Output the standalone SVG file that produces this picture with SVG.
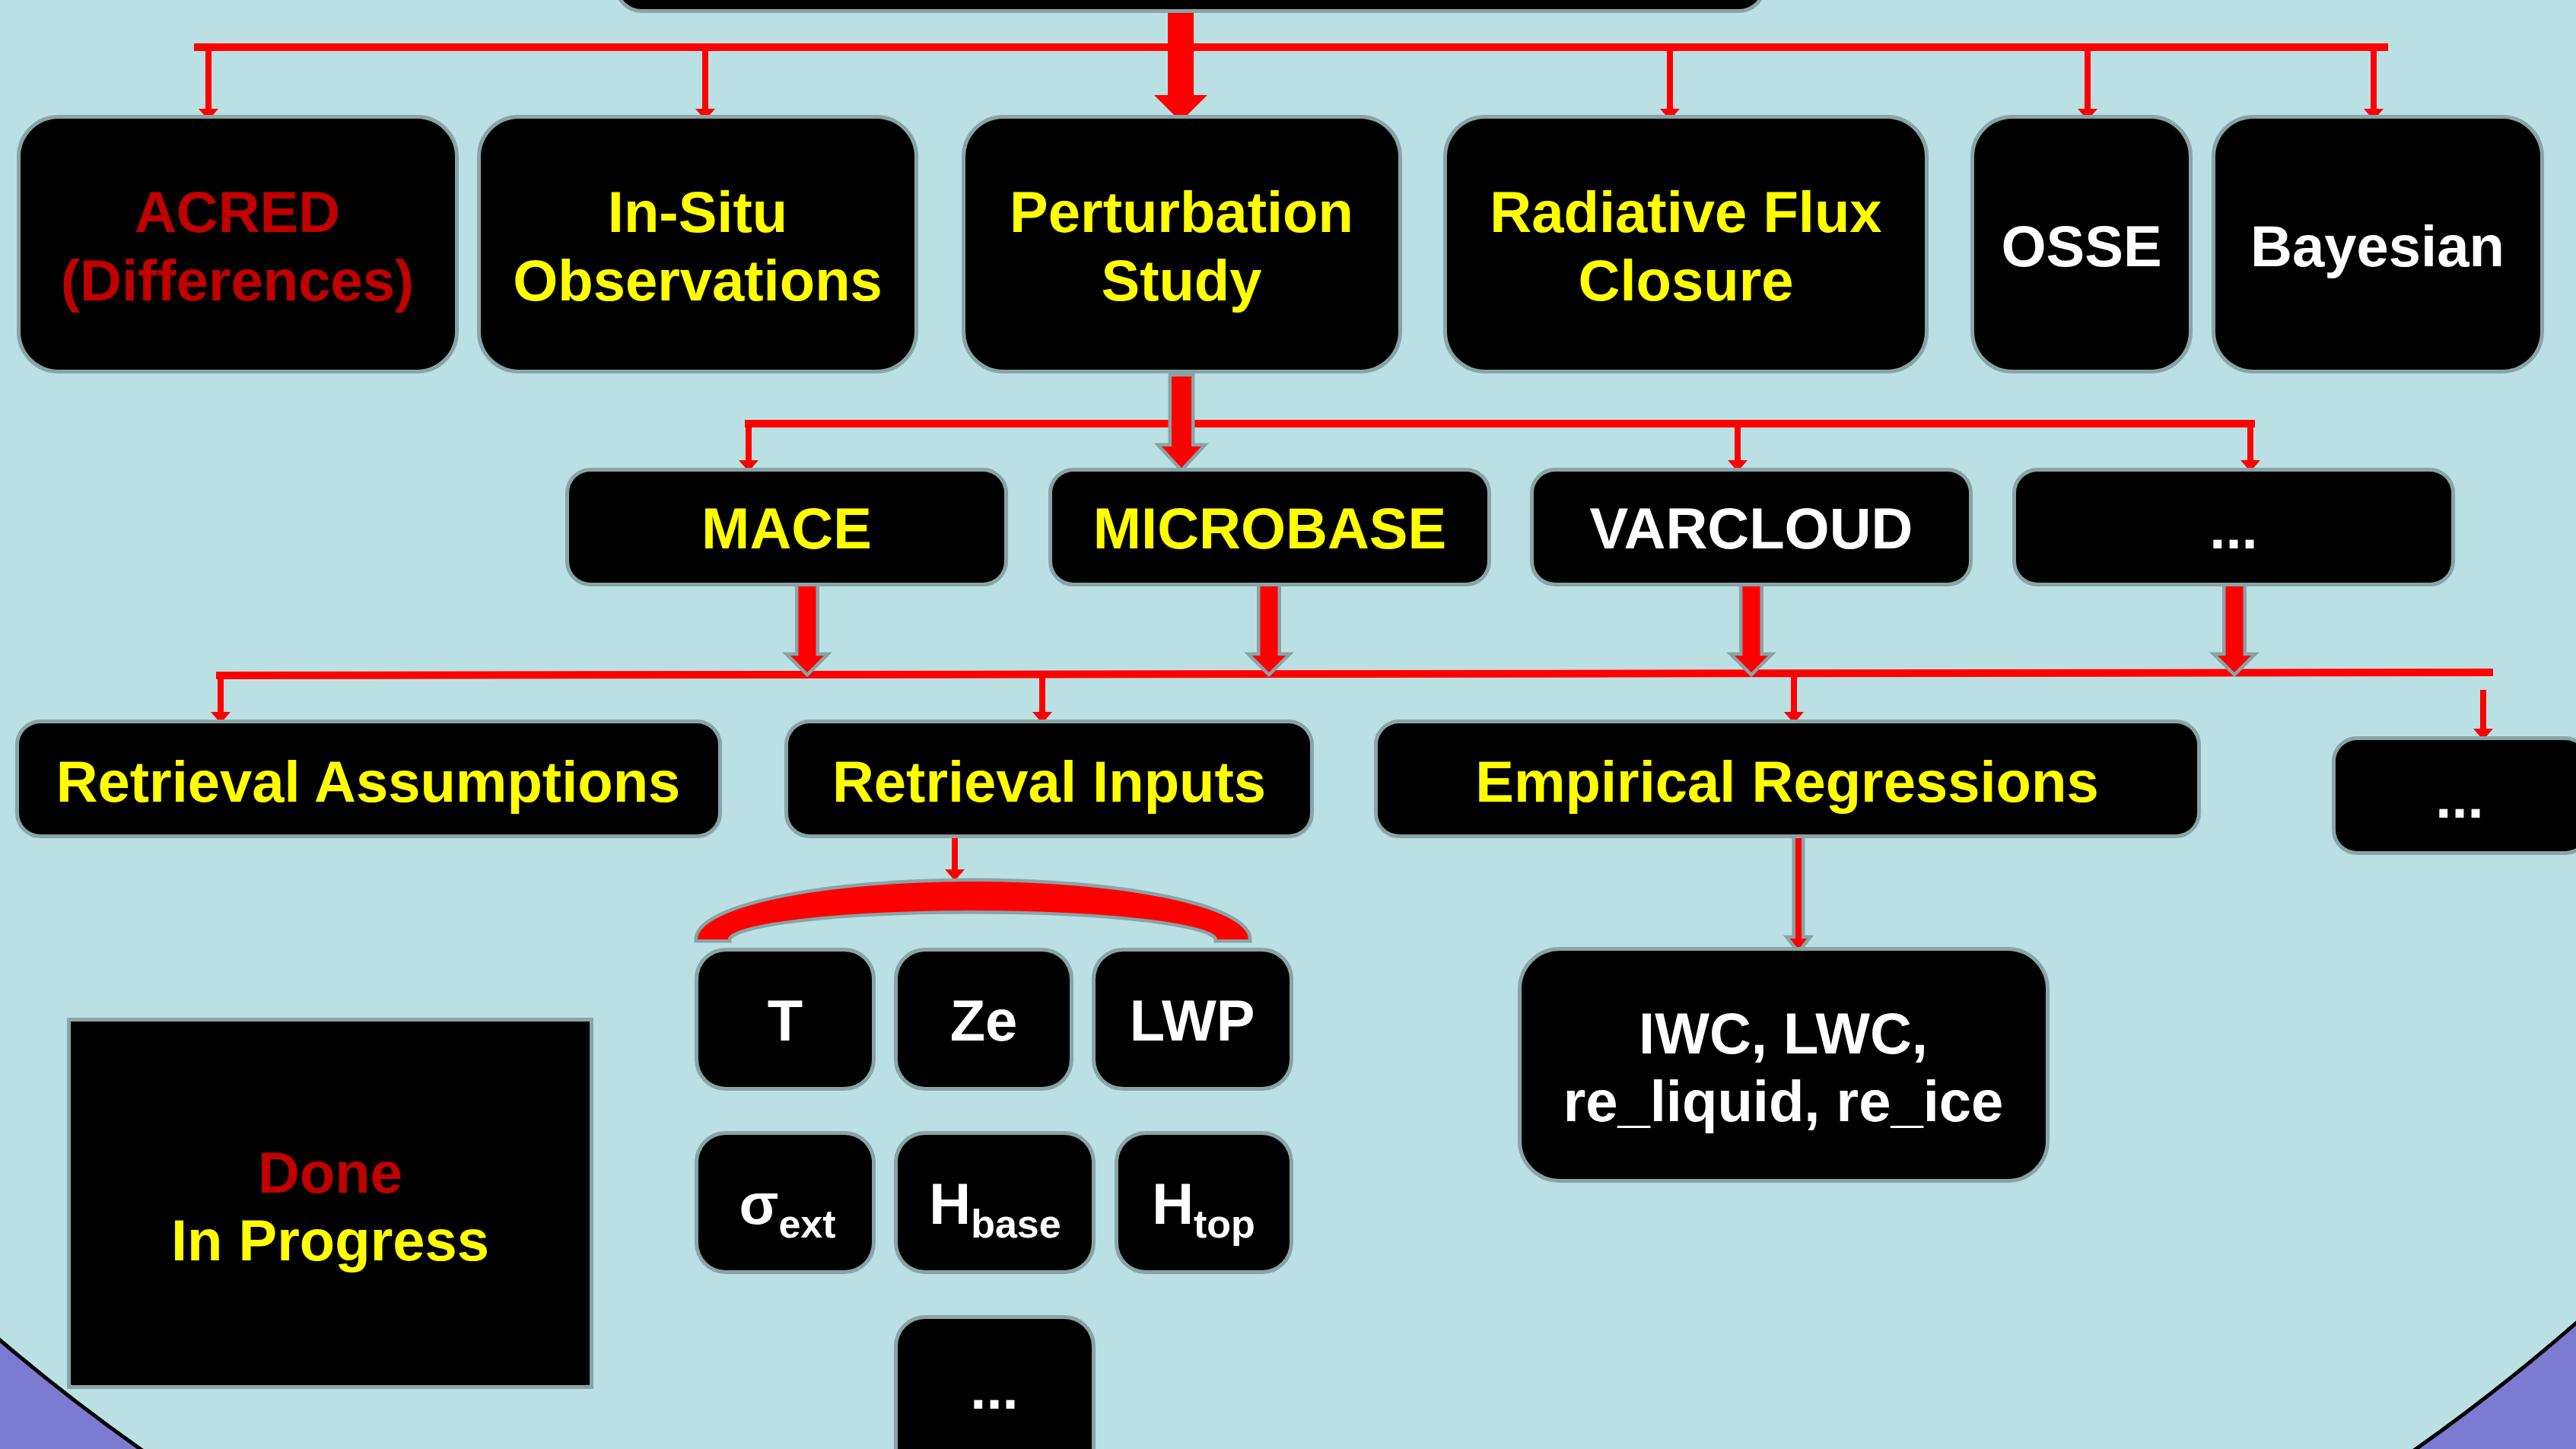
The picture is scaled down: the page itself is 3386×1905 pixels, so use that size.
<svg xmlns="http://www.w3.org/2000/svg" width="3386" height="1905" viewBox="0 0 3386 1905">
<style>
.box{fill:#000;stroke:#88a4a7;stroke-width:10;paint-order:stroke}
.t{font-family:"Liberation Sans",Arial,Helvetica,sans-serif;font-weight:bold;font-size:76px;text-anchor:middle}
.y{fill:#ffff00}.w{fill:#ffffff}.r{fill:#c00000}
.thin{stroke:#ff0000;stroke-width:8;fill:none}
.bar{fill:#ff0000}
.thick{fill:#ff0000;stroke:#88a4a7;stroke-width:9;paint-order:stroke;stroke-linejoin:miter}
.sub{font-size:52px}
</style>
<defs>
<marker id="ah" viewBox="0 -13 15 26" refX="3" refY="0" markerWidth="15" markerHeight="26" markerUnits="userSpaceOnUse" orient="auto">
<path d="M0,-13 L15,0 L0,13 Z" fill="#ff0000"/>
</marker>
</defs>
<rect x="0" y="0" width="3386" height="1905" fill="#7b7bd2"/>
<circle cx="1680" cy="-212" r="2592" fill="#bbe0e3" stroke="#000" stroke-width="5"/>

<g id="connectors">
<!-- top level -->
<rect class="bar" x="255" y="57" width="2884" height="10"/>
<polygon class="bar" points="1535,4 1569,4 1569,125 1587,125 1552,160 1517,125 1535,125"/>
<line class="thin" x1="274" y1="62" x2="274" y2="146" marker-end="url(#ah)"/>
<line class="thin" x1="927" y1="62" x2="927" y2="146" marker-end="url(#ah)"/>
<line class="thin" x1="2195" y1="62" x2="2195" y2="146" marker-end="url(#ah)"/>
<line class="thin" x1="2744" y1="62" x2="2744" y2="146" marker-end="url(#ah)"/>
<line class="thin" x1="3120" y1="62" x2="3120" y2="146" marker-end="url(#ah)"/>
<!-- second level -->
<rect class="bar" x="979" y="552" width="1985" height="10"/>
<polygon class="thick" points="1540,495 1566,495 1566,587 1579,587 1553,615 1527,587 1540,587"/>
<line class="thin" x1="984" y1="557" x2="984" y2="608" marker-end="url(#ah)"/>
<line class="thin" x1="2284" y1="557" x2="2284" y2="608" marker-end="url(#ah)"/>
<line class="thin" x1="2958" y1="557" x2="2958" y2="608" marker-end="url(#ah)"/>
<!-- third level -->
<polygon class="bar" points="284,883 3277,879 3277,889 284,893"/>
<polygon class="thick" points="1049.5,770 1072.5,770 1072.5,862 1083,862 1061,884 1039,862 1049.5,862"/>
<polygon class="thick" points="1656.5,770 1679.5,770 1679.5,862 1690,862 1668,884 1646,862 1656.5,862"/>
<polygon class="thick" points="2290.5,770 2313.5,770 2313.5,862 2324,862 2302,884 2280,862 2290.5,862"/>
<polygon class="thick" points="2925.5,770 2948.5,770 2948.5,862 2959,862 2937,884 2915,862 2925.5,862"/>
<line class="thin" x1="290" y1="888" x2="290" y2="939" marker-end="url(#ah)"/>
<line class="thin" x1="1370" y1="888" x2="1370" y2="939" marker-end="url(#ah)"/>
<line class="thin" x1="2358" y1="886" x2="2358" y2="939" marker-end="url(#ah)"/>
<line class="thin" x1="3264" y1="907" x2="3264" y2="961" marker-end="url(#ah)"/>
<!-- retrieval inputs to bracket -->
<line class="thin" x1="1255" y1="1097" x2="1255" y2="1146" marker-end="url(#ah)"/>
<path class="thick" d="M917,1235 A362,76 0 0 1 1641,1235 L1600,1235 A321.5,38 0 0 0 957,1235 Z"/>
<!-- empirical regressions to IWC -->
<polygon class="thick" points="2360,1100 2368,1100 2368,1234 2375,1234 2364,1248 2353,1234 2360,1234"/>
</g>

<g id="node-top"><rect class="box" x="813" y="-150" width="1503" height="162" rx="30"/></g>

<g id="node-acred"><rect class="box" x="27" y="156" width="571" height="330" rx="50"/>
<text class="t r" x="312" y="305">ACRED</text><text class="t r" x="312" y="395">(Differences)</text></g>
<g id="node-insitu"><rect class="box" x="632" y="156" width="570" height="330" rx="50"/>
<text class="t y" x="917" y="305">In-Situ</text><text class="t y" x="917" y="395">Observations</text></g>
<g id="node-perturbation"><rect class="box" x="1269" y="156" width="569" height="330" rx="50"/>
<text class="t y" x="1553" y="305">Perturbation</text><text class="t y" x="1553" y="395">Study</text></g>
<g id="node-radiative"><rect class="box" x="1902" y="156" width="628" height="330" rx="50"/>
<text class="t y" x="2216" y="305">Radiative Flux</text><text class="t y" x="2216" y="395">Closure</text></g>
<g id="node-osse"><rect class="box" x="2595" y="156" width="282" height="330" rx="50"/>
<text class="t w" x="2736" y="350">OSSE</text></g>
<g id="node-bayesian"><rect class="box" x="2912" y="156" width="427" height="330" rx="50"/>
<text class="t w" x="3125" y="350">Bayesian</text></g>

<g id="node-mace"><rect class="box" x="748" y="620" width="572" height="146" rx="28"/>
<text class="t y" x="1034" y="721">MACE</text></g>
<g id="node-microbase"><rect class="box" x="1383" y="620" width="572" height="146" rx="28"/>
<text class="t y" x="1669" y="721">MICROBASE</text></g>
<g id="node-varcloud"><rect class="box" x="2016" y="620" width="572" height="146" rx="28"/>
<text class="t w" x="2302" y="721">VARCLOUD</text></g>
<g id="node-more2"><rect class="box" x="2650" y="620" width="572" height="146" rx="28"/>
<text class="t w" x="2936" y="721">...</text></g>

<g id="node-assumptions"><rect class="box" x="25" y="951" width="919" height="146" rx="28"/>
<text class="t y" x="484" y="1054">Retrieval Assumptions</text></g>
<g id="node-inputs"><rect class="box" x="1036" y="951" width="686" height="146" rx="28"/>
<text class="t y" x="1379" y="1054">Retrieval Inputs</text></g>
<g id="node-empirical"><rect class="box" x="1811" y="951" width="1077" height="146" rx="28"/>
<text class="t y" x="2349" y="1054">Empirical Regressions</text></g>
<g id="node-more3"><rect class="box" x="3070" y="973" width="330" height="146" rx="28"/>
<text class="t w" x="3233" y="1075">...</text></g>

<g id="node-T"><rect class="box" x="918" y="1251" width="228" height="178" rx="36"/>
<text class="t w" x="1032" y="1368">T</text></g>
<g id="node-Ze"><rect class="box" x="1180" y="1251" width="226" height="178" rx="36"/>
<text class="t w" x="1293" y="1368">Ze</text></g>
<g id="node-LWP"><rect class="box" x="1440" y="1251" width="255" height="178" rx="36"/>
<text class="t w" x="1567" y="1368">LWP</text></g>
<g id="node-sigma"><rect class="box" x="918" y="1492" width="228" height="178" rx="36"/>
<text class="t w" x="1035" y="1609">σ<tspan class="sub" dy="18">ext</tspan></text></g>
<g id="node-hbase"><rect class="box" x="1180" y="1492" width="255" height="178" rx="36"/>
<text class="t w" x="1308" y="1609">H<tspan class="sub" dy="18">base</tspan></text></g>
<g id="node-htop"><rect class="box" x="1470" y="1492" width="225" height="178" rx="36"/>
<text class="t w" x="1582" y="1609">H<tspan class="sub" dy="18">top</tspan></text></g>
<g id="node-more4"><rect class="box" x="1180" y="1734" width="255" height="240" rx="36"/>
<text class="t w" x="1307" y="1852">...</text></g>

<g id="node-iwc"><rect class="box" x="2000" y="1250" width="689" height="300" rx="50"/>
<text class="t w" x="2344" y="1385">IWC, LWC,</text><text class="t w" x="2344" y="1474">re_liquid, re_ice</text></g>

<g id="legend"><rect class="box" x="93" y="1343" width="682" height="478"/>
<text class="t r" x="434" y="1568">Done</text><text class="t y" x="434" y="1657">In Progress</text></g>
</svg>
